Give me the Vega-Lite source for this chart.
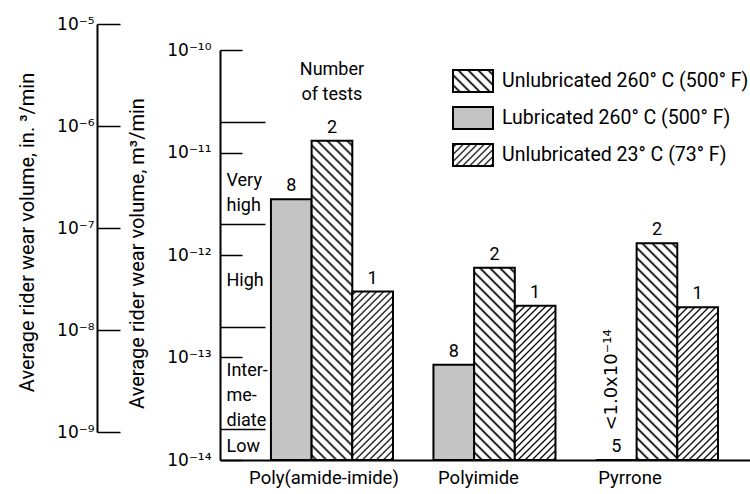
{
  "$schema": "https://vega.github.io/schema/vega-lite/v6.json",
  "width": 530,
  "height": 436,
  "autosize": {"type": "none"},
  "padding": {"left": 220, "top": 24, "right": 0, "bottom": 34},
  "background": "white",
  "config": {
    "font": "Roboto",
    "view": {"stroke": null},
    "axis": {"labelColor": "black", "titleColor": "black", "domainColor": "black", "tickColor": "black", "grid": false, "labelOverlap": false, "labelFlush": false, "labelBound": false, "titleFontWeight": "normal"}
  },
  "params": [
    {"name": "hB", "value": [
      {"offset":0.0065,"color":"#fff"},{"offset":0.0125,"color":"#000"},{"offset":0.0185,"color":"#fff"},
      {"offset":0.0315,"color":"#fff"},{"offset":0.0375,"color":"#000"},{"offset":0.0435,"color":"#fff"},
      {"offset":0.0565,"color":"#fff"},{"offset":0.0625,"color":"#000"},{"offset":0.0685,"color":"#fff"},
      {"offset":0.0815,"color":"#fff"},{"offset":0.0875,"color":"#000"},{"offset":0.0935,"color":"#fff"},
      {"offset":0.1065,"color":"#fff"},{"offset":0.1125,"color":"#000"},{"offset":0.1185,"color":"#fff"},
      {"offset":0.1315,"color":"#fff"},{"offset":0.1375,"color":"#000"},{"offset":0.1435,"color":"#fff"},
      {"offset":0.1565,"color":"#fff"},{"offset":0.1625,"color":"#000"},{"offset":0.1685,"color":"#fff"},
      {"offset":0.1815,"color":"#fff"},{"offset":0.1875,"color":"#000"},{"offset":0.1935,"color":"#fff"},
      {"offset":0.2065,"color":"#fff"},{"offset":0.2125,"color":"#000"},{"offset":0.2185,"color":"#fff"},
      {"offset":0.2315,"color":"#fff"},{"offset":0.2375,"color":"#000"},{"offset":0.2435,"color":"#fff"},
      {"offset":0.2565,"color":"#fff"},{"offset":0.2625,"color":"#000"},{"offset":0.2685,"color":"#fff"},
      {"offset":0.2815,"color":"#fff"},{"offset":0.2875,"color":"#000"},{"offset":0.2935,"color":"#fff"},
      {"offset":0.3065,"color":"#fff"},{"offset":0.3125,"color":"#000"},{"offset":0.3185,"color":"#fff"},
      {"offset":0.3315,"color":"#fff"},{"offset":0.3375,"color":"#000"},{"offset":0.3435,"color":"#fff"},
      {"offset":0.3565,"color":"#fff"},{"offset":0.3625,"color":"#000"},{"offset":0.3685,"color":"#fff"},
      {"offset":0.3815,"color":"#fff"},{"offset":0.3875,"color":"#000"},{"offset":0.3935,"color":"#fff"},
      {"offset":0.4065,"color":"#fff"},{"offset":0.4125,"color":"#000"},{"offset":0.4185,"color":"#fff"},
      {"offset":0.4315,"color":"#fff"},{"offset":0.4375,"color":"#000"},{"offset":0.4435,"color":"#fff"},
      {"offset":0.4565,"color":"#fff"},{"offset":0.4625,"color":"#000"},{"offset":0.4685,"color":"#fff"},
      {"offset":0.4815,"color":"#fff"},{"offset":0.4875,"color":"#000"},{"offset":0.4935,"color":"#fff"},
      {"offset":0.5065,"color":"#fff"},{"offset":0.5125,"color":"#000"},{"offset":0.5185,"color":"#fff"},
      {"offset":0.5315,"color":"#fff"},{"offset":0.5375,"color":"#000"},{"offset":0.5435,"color":"#fff"},
      {"offset":0.5565,"color":"#fff"},{"offset":0.5625,"color":"#000"},{"offset":0.5685,"color":"#fff"},
      {"offset":0.5815,"color":"#fff"},{"offset":0.5875,"color":"#000"},{"offset":0.5935,"color":"#fff"},
      {"offset":0.6065,"color":"#fff"},{"offset":0.6125,"color":"#000"},{"offset":0.6185,"color":"#fff"},
      {"offset":0.6315,"color":"#fff"},{"offset":0.6375,"color":"#000"},{"offset":0.6435,"color":"#fff"},
      {"offset":0.6565,"color":"#fff"},{"offset":0.6625,"color":"#000"},{"offset":0.6685,"color":"#fff"},
      {"offset":0.6815,"color":"#fff"},{"offset":0.6875,"color":"#000"},{"offset":0.6935,"color":"#fff"},
      {"offset":0.7065,"color":"#fff"},{"offset":0.7125,"color":"#000"},{"offset":0.7185,"color":"#fff"},
      {"offset":0.7315,"color":"#fff"},{"offset":0.7375,"color":"#000"},{"offset":0.7435,"color":"#fff"},
      {"offset":0.7565,"color":"#fff"},{"offset":0.7625,"color":"#000"},{"offset":0.7685,"color":"#fff"},
      {"offset":0.7815,"color":"#fff"},{"offset":0.7875,"color":"#000"},{"offset":0.7935,"color":"#fff"},
      {"offset":0.8065,"color":"#fff"},{"offset":0.8125,"color":"#000"},{"offset":0.8185,"color":"#fff"},
      {"offset":0.8315,"color":"#fff"},{"offset":0.8375,"color":"#000"},{"offset":0.8435,"color":"#fff"},
      {"offset":0.8565,"color":"#fff"},{"offset":0.8625,"color":"#000"},{"offset":0.8685,"color":"#fff"},
      {"offset":0.8815,"color":"#fff"},{"offset":0.8875,"color":"#000"},{"offset":0.8935,"color":"#fff"},
      {"offset":0.9065,"color":"#fff"},{"offset":0.9125,"color":"#000"},{"offset":0.9185,"color":"#fff"}
    ]},
    {"name": "hF", "value": [
      {"offset":0.008,"color":"#fff"},{"offset":0.016,"color":"#000"},{"offset":0.024,"color":"#fff"},
      {"offset":0.040,"color":"#fff"},{"offset":0.048,"color":"#000"},{"offset":0.056,"color":"#fff"},
      {"offset":0.072,"color":"#fff"},{"offset":0.080,"color":"#000"},{"offset":0.088,"color":"#fff"},
      {"offset":0.104,"color":"#fff"},{"offset":0.112,"color":"#000"},{"offset":0.120,"color":"#fff"},
      {"offset":0.136,"color":"#fff"},{"offset":0.144,"color":"#000"},{"offset":0.152,"color":"#fff"},
      {"offset":0.168,"color":"#fff"},{"offset":0.176,"color":"#000"},{"offset":0.184,"color":"#fff"},
      {"offset":0.200,"color":"#fff"},{"offset":0.208,"color":"#000"},{"offset":0.216,"color":"#fff"},
      {"offset":0.232,"color":"#fff"},{"offset":0.240,"color":"#000"},{"offset":0.248,"color":"#fff"},
      {"offset":0.264,"color":"#fff"},{"offset":0.272,"color":"#000"},{"offset":0.280,"color":"#fff"},
      {"offset":0.296,"color":"#fff"},{"offset":0.304,"color":"#000"},{"offset":0.312,"color":"#fff"},
      {"offset":0.328,"color":"#fff"},{"offset":0.336,"color":"#000"},{"offset":0.344,"color":"#fff"},
      {"offset":0.360,"color":"#fff"},{"offset":0.368,"color":"#000"},{"offset":0.376,"color":"#fff"},
      {"offset":0.392,"color":"#fff"},{"offset":0.400,"color":"#000"},{"offset":0.408,"color":"#fff"},
      {"offset":0.424,"color":"#fff"},{"offset":0.432,"color":"#000"},{"offset":0.440,"color":"#fff"},
      {"offset":0.456,"color":"#fff"},{"offset":0.464,"color":"#000"},{"offset":0.472,"color":"#fff"},
      {"offset":0.488,"color":"#fff"},{"offset":0.496,"color":"#000"},{"offset":0.504,"color":"#fff"},
      {"offset":0.520,"color":"#fff"},{"offset":0.528,"color":"#000"},{"offset":0.536,"color":"#fff"},
      {"offset":0.552,"color":"#fff"},{"offset":0.560,"color":"#000"},{"offset":0.568,"color":"#fff"},
      {"offset":0.584,"color":"#fff"},{"offset":0.592,"color":"#000"},{"offset":0.600,"color":"#fff"},
      {"offset":0.616,"color":"#fff"},{"offset":0.624,"color":"#000"},{"offset":0.632,"color":"#fff"},
      {"offset":0.648,"color":"#fff"},{"offset":0.656,"color":"#000"},{"offset":0.664,"color":"#fff"},
      {"offset":0.680,"color":"#fff"},{"offset":0.688,"color":"#000"},{"offset":0.696,"color":"#fff"},
      {"offset":0.712,"color":"#fff"},{"offset":0.720,"color":"#000"},{"offset":0.728,"color":"#fff"},
      {"offset":0.744,"color":"#fff"},{"offset":0.752,"color":"#000"},{"offset":0.760,"color":"#fff"},
      {"offset":0.776,"color":"#fff"},{"offset":0.784,"color":"#000"},{"offset":0.792,"color":"#fff"},
      {"offset":0.808,"color":"#fff"},{"offset":0.816,"color":"#000"},{"offset":0.824,"color":"#fff"},
      {"offset":0.840,"color":"#fff"},{"offset":0.848,"color":"#000"},{"offset":0.856,"color":"#fff"},
      {"offset":0.872,"color":"#fff"},{"offset":0.880,"color":"#000"},{"offset":0.888,"color":"#fff"},
      {"offset":0.904,"color":"#fff"},{"offset":0.912,"color":"#000"},{"offset":0.920,"color":"#fff"},
      {"offset":0.936,"color":"#fff"},{"offset":0.944,"color":"#000"},{"offset":0.952,"color":"#fff"}
    ]}
  ],
  "data": {"values": [
    {"material": "Poly(amide-imide)", "condition": "Lubricated 260° C (500° F)", "value": 3.5e-12, "tests": 8},
    {"material": "Poly(amide-imide)", "condition": "Unlubricated 260° C (500° F)", "value": 1.3e-11, "tests": 2},
    {"material": "Poly(amide-imide)", "condition": "Unlubricated 23° C (73° F)", "value": 4.4e-13, "tests": 1},
    {"material": "Polyimide", "condition": "Lubricated 260° C (500° F)", "value": 8.5e-14, "tests": 8},
    {"material": "Polyimide", "condition": "Unlubricated 260° C (500° F)", "value": 7.5e-13, "tests": 2},
    {"material": "Polyimide", "condition": "Unlubricated 23° C (73° F)", "value": 3.2e-13, "tests": 1},
    {"material": "Pyrrone", "condition": "Lubricated 260° C (500° F)", "value": 1e-14, "tests": 5, "note": "<1.0x10⁻¹⁴"},
    {"material": "Pyrrone", "condition": "Unlubricated 260° C (500° F)", "value": 1.3e-12, "tests": 2},
    {"material": "Pyrrone", "condition": "Unlubricated 23° C (73° F)", "value": 3.1e-13, "tests": 1}
  ]},
  "layer": [
    {
      "mark": {"type": "bar", "stroke": "black", "strokeWidth": 2},
      "encoding": {
        "x": {"field": "material", "type": "nominal", "sort": null,
          "scale": {"domain": ["Poly(amide-imide)", "Polyimide", "Pyrrone"], "paddingInner": 0.249, "paddingOuter": 0.2553, "align": 0.614},
          "axis": {"orient": "bottom", "title": null, "ticks": false, "domainWidth": 2, "labelFontSize": 18.5, "labelPadding": 8, "labelAngle": 0, "labelBaseline": "top",
            "labelOffset": {"condition": [{"test": "datum.value === 'Polyimide'", "value": -16}, {"test": "datum.value === 'Pyrrone'", "value": -27}], "value": -8}}},
        "xOffset": {"field": "condition", "type": "nominal", "scale": {"domain": ["Lubricated 260° C (500° F)", "Unlubricated 260° C (500° F)", "Unlubricated 23° C (73° F)"], "paddingInner": 0, "paddingOuter": 0}},
        "y": {"field": "value", "type": "quantitative",
          "scale": {"type": "log", "domain": [1e-14, 1e-10], "range": [436, 26], "nice": false},
          "axis": {"orient": "left", "values": [1e-14, 1e-13, 1e-12, 1e-11, 1e-10],
            "labelExpr": "datum.value > 5e-11 ? '10⁻¹⁰' : datum.value > 5e-12 ? '10⁻¹¹' : datum.value > 5e-13 ? '10⁻¹²' : datum.value > 5e-14 ? '10⁻¹³' : '10⁻¹⁴'",
            "tickSize": -22, "tickWidth": 1.5, "domainWidth": 2, "labelPadding": 31, "labelFont": "DejaVu Sans", "labelFontSize": 17, "labelBaseline": "middle",
            "title": "Average rider wear volume, m³/min", "titleAngle": 270, "titleX": -83, "titleY": 229, "titleAlign": "center", "titleBaseline": "middle", "titleFontSize": 20}},
        "y2": {"datum": 1e-14},
        "fill": {"condition": [
          {"test": "datum.condition === 'Lubricated 260° C (500° F)'", "value": "#c4c4c4"},
          {"test": "datum.material === 'Poly(amide-imide)' && datum.condition === 'Unlubricated 260° C (500° F)'", "value": {"expr": "{gradient: 'linear', x1: 1, y1: 0, x2: 0.8428, y2: 1.2331, stops: hB}"}},
          {"test": "datum.material === 'Polyimide' && datum.condition === 'Unlubricated 260° C (500° F)'", "value": {"expr": "{gradient: 'linear', x1: 1, y1: 0, x2: 0.5784, y2: 1.9920, stops: hB}"}},
          {"test": "datum.material === 'Pyrrone' && datum.condition === 'Unlubricated 260° C (500° F)'", "value": {"expr": "{gradient: 'linear', x1: 1, y1: 0, x2: 0.6653, y2: 1.7830, stops: hB}"}},
          {"test": "datum.material === 'Poly(amide-imide)' && datum.condition === 'Unlubricated 23° C (73° F)'", "value": {"expr": "{gradient: 'linear', x1: 0, y1: 0, x2: 0.2962, y2: 1.2267, stops: hF}"}},
          {"test": "datum.material === 'Polyimide' && datum.condition === 'Unlubricated 23° C (73° F)'", "value": {"expr": "{gradient: 'linear', x1: 0, y1: 0, x2: 0.3495, y2: 1.3256, stops: hF}"}},
          {"test": "datum.material === 'Pyrrone' && datum.condition === 'Unlubricated 23° C (73° F)'", "value": {"expr": "{gradient: 'linear', x1: 0, y1: 0, x2: 0.3555, y2: 1.3361, stops: hF}"}}
        ], "value": "white"}
      }
    },
    {
      "mark": {"type": "text", "baseline": "bottom", "dy": -4, "fontSize": 18, "color": "black"},
      "encoding": {
        "x": {"field": "material", "type": "nominal", "sort": null,
          "axis": {"orient": "bottom", "title": null, "ticks": false, "domainWidth": 2, "labelFontSize": 18.5, "labelPadding": 8, "labelAngle": 0, "labelBaseline": "top",
            "labelOffset": {"condition": [{"test": "datum.value === 'Polyimide'", "value": -16}, {"test": "datum.value === 'Pyrrone'", "value": -27}], "value": -8}}},
        "xOffset": {"field": "condition", "type": "nominal"},
        "y": {"field": "value", "type": "quantitative",
          "scale": {"type": "log", "domain": [1e-14, 1e-10], "range": [436, 26], "nice": false},
          "axis": {"orient": "left", "values": [2e-14, 2e-13, 2e-12, 2e-11], "labels": false, "domain": false, "tickSize": -45, "tickWidth": 1.5, "title": null}},
        "text": {"field": "tests", "type": "nominal"}
      }
    },
    {
      "transform": [{"filter": "isValid(datum.note)"}],
      "mark": {"type": "text", "angle": 270, "align": "center", "baseline": "middle", "dx": 80, "dy": -4, "font": "DejaVu Sans", "fontSize": 18, "color": "black"},
      "encoding": {
        "x": {"field": "material", "type": "nominal", "sort": null,
          "axis": {"orient": "bottom", "title": null, "ticks": false, "domainWidth": 2, "labelFontSize": 18.5, "labelPadding": 8, "labelAngle": 0, "labelBaseline": "top",
            "labelOffset": {"condition": [{"test": "datum.value === 'Polyimide'", "value": -16}, {"test": "datum.value === 'Pyrrone'", "value": -27}], "value": -8}}},
        "xOffset": {"field": "condition", "type": "nominal"},
        "y": {"field": "value", "type": "quantitative",
          "scale": {"type": "log", "domain": [1e-14, 1e-10], "range": [436, 26], "nice": false},
          "axis": {"orient": "left", "values": [1.34e-14, 7.4e-14, 5.6e-13, 5.3e-12], "ticks": false, "tickSize": 0, "domain": false,
            "labelAlign": "left", "labelPadding": -6, "labelFontSize": 18, "labelLineHeight": 25, "labelBaseline": "middle",
            "labelExpr": "datum.value > 1e-12 ? ['Very', 'high'] : datum.value > 1e-13 ? 'High' : datum.value > 3e-14 ? ['Inter-', 'me-', 'diate'] : 'Low'",
            "title": null}},
        "text": {"field": "note", "type": "nominal"}
      }
    },
    {
      "data": {"values": [{}]},
      "mark": {"type": "text", "text": ["Number", "of tests"], "baseline": "top", "dy": 11, "fontSize": 18, "lineHeight": 25, "color": "black"},
      "encoding": {
        "x": {"datum": "Poly(amide-imide)", "type": "nominal",
          "axis": {"orient": "bottom", "title": null, "ticks": false, "domainWidth": 2, "labelFontSize": 18.5, "labelPadding": 8, "labelAngle": 0, "labelBaseline": "top",
            "labelOffset": {"condition": [{"test": "datum.value === 'Polyimide'", "value": -16}, {"test": "datum.value === 'Pyrrone'", "value": -27}], "value": -8}}},
        "y": {"datum": 1e-10, "type": "quantitative",
          "scale": {"type": "log", "domain": [1e-14, 1e-10], "range": [436, 26], "nice": false}, "axis": null}
      }
    },
    {
      "mark": {"type": "point", "filled": true, "size": 0},
      "encoding": {
        "y": {"datum": 1e-9, "type": "quantitative",
          "scale": {"type": "log", "domain": [1e-9, 1e-5], "range": [408, 0], "nice": false},
          "axis": {"orient": "left", "offset": 123, "values": [1e-9, 1e-8, 1e-7, 1e-6, 1e-5],
            "labelExpr": "datum.value > 5e-6 ? '10⁻⁵' : datum.value > 5e-7 ? '10⁻⁶' : datum.value > 5e-8 ? '10⁻⁷' : datum.value > 5e-9 ? '10⁻⁸' : '10⁻⁹'",
            "tickSize": -23, "tickWidth": 1.5, "domainWidth": 2, "labelPadding": 26, "labelFont": "DejaVu Sans", "labelFontSize": 17, "labelBaseline": "middle",
            "title": "Average rider wear volume, in. ³/min", "titleAngle": 270, "titleX": -70, "titleY": 208, "titleAlign": "center", "titleBaseline": "middle", "titleFontSize": 20}},
        "fill": {"field": "condition", "type": "nominal",
          "scale": {"domain": ["Unlubricated 260° C (500° F)", "Lubricated 260° C (500° F)", "Unlubricated 23° C (73° F)"],
            "range": [
              {"expr": "{gradient: 'linear', x1: 1, y1: 0, x2: -6.6775, y2: 4.2226, stops: hB}"},
              "#c4c4c4",
              {"expr": "{gradient: 'linear', x1: 0, y1: 0, x2: 4.1987, y2: 2.3093, stops: hF}"}
            ]},
          "legend": {"title": null, "orient": "none", "legendX": 232, "legendY": 36, "padding": 0,
            "symbolType": "M-1,-0.55H1V0.55H-1Z", "symbolSize": 1600, "symbolStrokeWidth": 2, "symbolStrokeColor": "black", "symbolOpacity": 1,
            "labelFontSize": 19.5, "labelOffset": 8, "labelLimit": 400, "rowPadding": 1, "labelColor": "black"}}
      }
    }
  ],
  "resolve": {"scale": {"y": "independent"}, "axis": {"y": "independent"}}
}
